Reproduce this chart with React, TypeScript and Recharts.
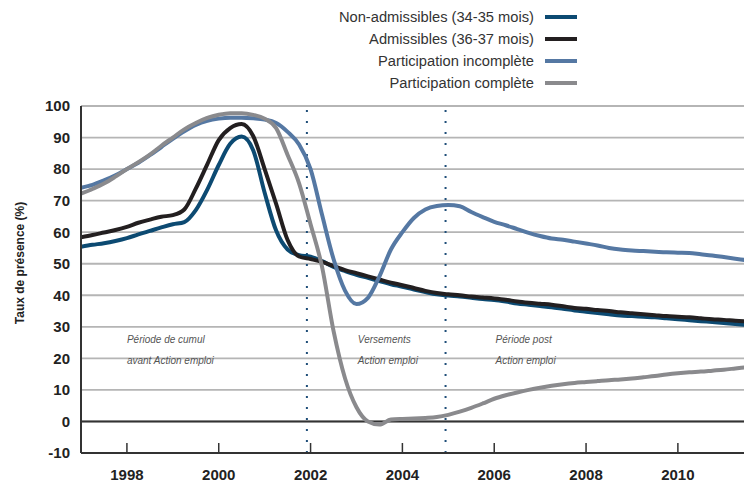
import React from 'react';
import { LineChart, Line, XAxis, YAxis, CartesianGrid, ReferenceLine, ReferenceDot, Legend } from 'recharts';

// quarterly points
const years = [
  1997, 1997.25, 1997.5, 1997.75, 1998, 1998.25, 1998.5, 1998.75,
  1999, 1999.25, 1999.5, 1999.75, 2000, 2000.25, 2000.5, 2000.75,
  2001, 2001.25, 2001.5, 2001.75, 2002, 2002.25, 2002.5, 2002.75,
  2003, 2003.25, 2003.5, 2003.75, 2004, 2004.25, 2004.5, 2004.75,
  2005, 2005.25, 2005.5, 2005.75, 2006, 2006.25, 2006.5, 2006.75,
  2007, 2007.25, 2007.5, 2007.75, 2008, 2008.25, 2008.5, 2008.75,
  2009, 2009.25, 2009.5, 2009.75, 2010, 2010.25, 2010.5, 2010.75,
  2011, 2011.25, 2011.5,
];

const nonAdmissibles = [
  55.4, 56.0, 56.5, 57.2, 58.1, 59.3, 60.4, 61.5,
  62.5, 63.2, 67.0, 73.5, 81.3, 88.0, 90.3, 86.0,
  72.5, 60.5, 54.5, 52.7, 52.2, 50.8, 49.0, 47.7,
  46.5, 45.5, 44.5, 43.5, 42.7, 41.8, 41.0, 40.3,
  39.9, 39.6, 39.2, 38.8, 38.5, 38.0, 37.4, 37.0,
  36.6, 36.2, 35.7, 35.2, 34.8, 34.4, 34.0, 33.6,
  33.4, 33.2, 33.0, 32.7, 32.4, 32.1, 31.8, 31.5,
  31.2, 30.9, 30.6,
];

const admissibles = [
  58.4, 59.1, 59.9, 60.7, 61.7, 63.0, 64.0, 64.9,
  65.4, 67.2, 73.8, 81.5, 89.2, 93.0, 94.3, 90.5,
  80.0, 69.0, 57.5, 52.3, 51.5, 50.6, 49.3, 48.0,
  47.0, 46.0, 45.0, 44.0, 43.2, 42.3, 41.4, 40.7,
  40.3, 40.0, 39.6, 39.3, 39.0, 38.6, 38.0, 37.6,
  37.3, 37.0, 36.5, 36.0, 35.7, 35.3, 35.0, 34.6,
  34.3, 34.0, 33.7, 33.4, 33.2, 33.0, 32.7, 32.4,
  32.2, 31.9, 31.7,
];

const incomplete = [
  74.1, 75.0, 76.4, 78.0, 80.0, 82.0, 84.4, 87.0,
  89.6, 92.0, 94.0, 95.3, 96.0, 96.3, 96.3, 96.1,
  95.7, 94.6, 91.8, 87.8, 80.0, 65.5, 51.5, 41.5,
  37.2, 39.2, 46.0, 54.5, 60.0, 64.5, 67.2, 68.3,
  68.6, 68.2, 66.4, 64.8, 63.3, 62.2, 61.0, 59.8,
  58.8, 58.0, 57.6, 57.0, 56.4, 55.8, 55.0, 54.5,
  54.2, 54.0, 53.8, 53.6, 53.5, 53.4, 53.0, 52.6,
  52.1, 51.6, 51.1,
];

const complete = [
  72.2, 73.7, 75.4, 77.6, 80.0, 82.2, 84.6, 87.4,
  90.0, 92.6, 94.6, 96.2, 97.2, 97.7, 97.7, 97.2,
  96.0, 93.0, 84.5, 75.5, 62.5, 49.0, 28.7, 13.7,
  4.5, 0.0, -1.0, 0.6, 0.8, 0.9, 1.1, 1.4,
  2.1, 3.1, 4.3, 5.7, 7.2, 8.3, 9.2, 10.0,
  10.7, 11.3, 11.8, 12.2, 12.5, 12.8, 13.1, 13.3,
  13.6, 14.0, 14.4, 14.9, 15.3, 15.6, 15.8, 16.1,
  16.4, 16.8, 17.2,
];

const xTicks = [1998, 2000, 2002, 2004, 2006, 2008, 2010];
const yTicks = [-10, 0, 10, 20, 30, 40, 50, 60, 70, 80, 90, 100];
const periodBreaks = [2001.92, 2004.94];

const notes = [
  { x: 1998, y: 26.1, text: 'Période de cumul' },
  { x: 1998, y: 19.2, text: 'avant Action emploi' },
  { x: 2003.03, y: 26.1, text: 'Versements' },
  { x: 2003.03, y: 19.2, text: 'Action emploi' },
  { x: 2006.03, y: 26.1, text: 'Période post' },
  { x: 2006.03, y: 19.2, text: 'Action emploi' },
];

const series = [
  { key: 'nonAdmissibles', name: 'Non-admissibles (34-35 mois)', color: '#0c4a72' },
  { key: 'admissibles', name: 'Admissibles (36-37 mois)', color: '#231f20' },
  { key: 'incomplete', name: 'Participation incomplète', color: '#5578a3' },
  { key: 'complete', name: 'Participation complète', color: '#8a8a8d' },
];

const data = years.map((year, i) => ({
  year,
  nonAdmissibles: nonAdmissibles[i],
  admissibles: admissibles[i],
  incomplete: incomplete[i],
  complete: complete[i],
}));

const font = '"Liberation Sans", Arial, sans-serif';

const renderLegend = () => (
  <div style={{ display: 'flex', flexDirection: 'column', alignItems: 'flex-end' }}>
    {series.map((s) => (
      <div
        key={s.key}
        style={{ display: 'flex', alignItems: 'center', height: 22, fontFamily: font, fontSize: 14.7, color: '#333' }}
      >
        <span>{s.name}</span>
        <span style={{ display: 'inline-block', width: 32, height: 4, background: s.color, marginLeft: 11 }} />
      </div>
    ))}
  </div>
);

export default function App() {
  return (
    <div style={{ position: 'absolute', left: 0, top: 0, width: 744, height: 483, background: '#fff' }}>
      <LineChart width={744} height={483} data={data} margin={{ top: 106, right: 0, bottom: 0, left: 0 }}>
        <CartesianGrid vertical={false} stroke="#b5b5b5" strokeWidth={1.8} />
        <XAxis
          dataKey="year"
          type="number"
          domain={[1997, 2011.44]}
          allowDataOverflow
          ticks={xTicks}
          interval={0}
          height={30}
          axisLine={{ stroke: '#333', strokeWidth: 2 }}
          tickLine={{ stroke: '#333', strokeWidth: 1.5 }}
          tickSize={-10}
          tickMargin={26}
          tick={{ fill: '#222', fontSize: 15, fontWeight: 'bold', fontFamily: font }}
        />
        <YAxis
          type="number"
          domain={[-10, 100]}
          ticks={yTicks}
          interval={0}
          width={81}
          axisLine={{ stroke: '#333', strokeWidth: 2 }}
          tickLine={false}
          tickMargin={5}
          tick={{ fill: '#222', fontSize: 15, fontWeight: 'bold', fontFamily: font }}
          label={{
            content: () => (
              <text
                x={20}
                y={263}
                transform="rotate(-90, 20, 263)"
                textAnchor="middle"
                dominantBaseline="central"
                fontFamily={font}
                fontSize={12}
                fontWeight="bold"
                fill="#222"
              >
                Taux de présence (%)
              </text>
            ),
          }}
        />
        <ReferenceLine y={0} stroke="#333" strokeWidth={2} />
        {periodBreaks.map((x) => (
          <ReferenceLine key={x} x={x} stroke="#1f4e79" strokeWidth={2} strokeDasharray="2 9" />
        ))}
        {notes.map((n, i) => (
          <ReferenceDot
            key={i}
            x={n.x}
            y={n.y}
            r={0}
            fill="none"
            stroke="none"
            label={{
              value: n.text,
              position: 'right',
              offset: 0,
              fill: '#555',
              fontSize: 10,
              fontStyle: 'italic',
              fontFamily: font,
            }}
          />
        ))}
        <Legend
          layout="vertical"
          align="center"
          verticalAlign="middle"
          content={renderLegend}
          wrapperStyle={{ top: 6, left: 277, width: 300 }}
        />
        {series.map((s) => (
          <Line
            key={s.key}
            dataKey={s.key}
            name={s.name}
            type="monotone"
            stroke={s.color}
            strokeWidth={4}
            dot={false}
            activeDot={false}
            isAnimationActive={false}
          />
        ))}
      </LineChart>
    </div>
  );
}
